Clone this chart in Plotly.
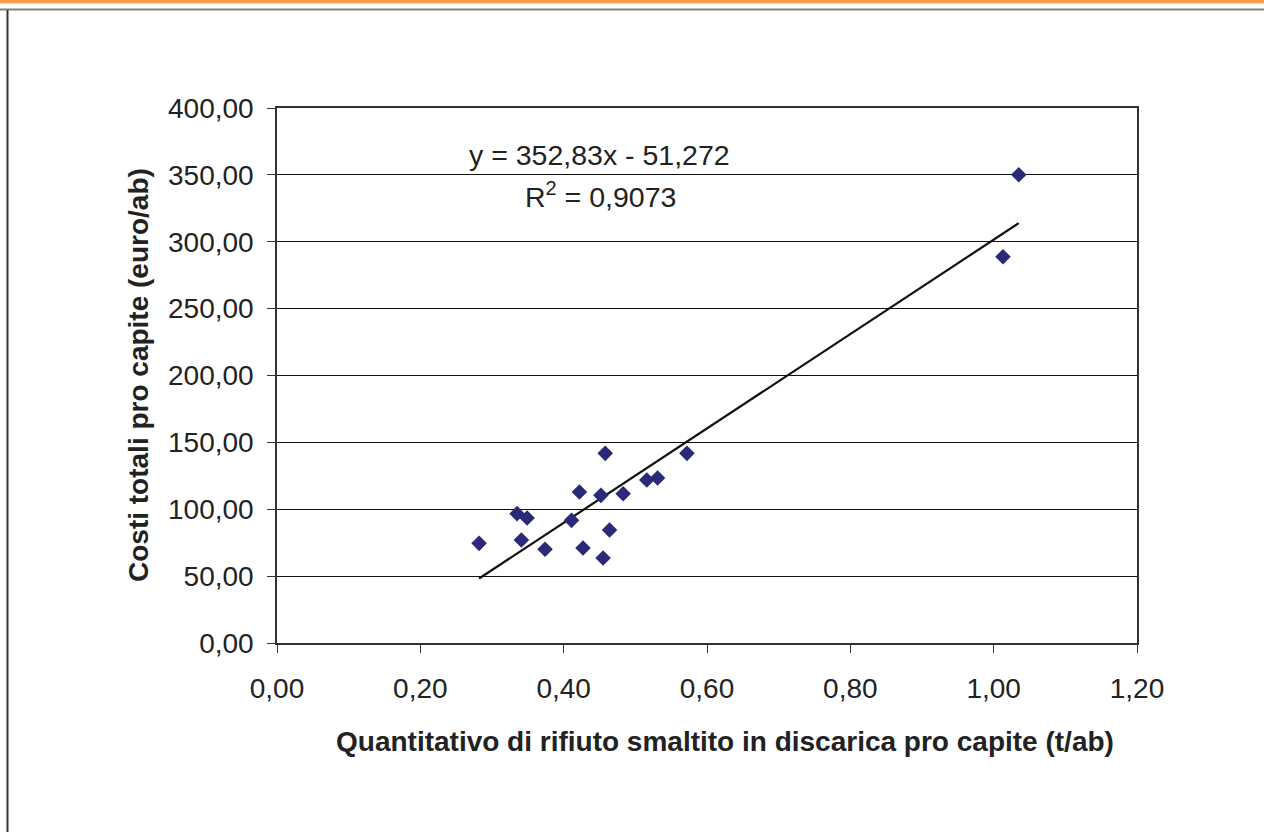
import plotly.graph_objects as go

# dati
quantitativo = [0.282, 0.335, 0.349, 0.341, 0.374, 0.411, 0.422, 0.427, 0.452, 0.455,
                0.464, 0.483, 0.458, 0.516, 0.531, 0.572, 1.013, 1.035]
costi = [74.5, 96.7, 93.5, 77.0, 70.1, 91.7, 112.9, 71.0, 110.4, 63.6,
         84.5, 111.6, 141.8, 121.9, 123.4, 141.8, 288.8, 350.1]

# retta di regressione
pendenza = 352.83
intercetta = -51.272
x_trend = [min(quantitativo), max(quantitativo)]
y_trend = [pendenza * v + intercetta for v in x_trend]

x_ticks = [0, 0.2, 0.4, 0.6, 0.8, 1.0, 1.2]
y_ticks = [0, 50, 100, 150, 200, 250, 300, 350, 400]

font = "Liberation Sans, Arial, sans-serif"

# area del grafico in pixel: x 277-1137, y 108-643
L, T, W, H = 277, 108, 860, 535


def px(x):
    return (x - L) / W


def py(y):
    return (T + H - y) / H


fig = go.Figure()
fig.add_trace(go.Scatter(x=x_trend, y=y_trend, mode="lines",
                         line=dict(color="#111111", width=2.2), hoverinfo="skip"))
fig.add_trace(go.Scatter(x=quantitativo, y=costi, mode="markers",
                         marker=dict(symbol="diamond", size=12, color="#2B2A78")))

fig.update_layout(
    width=1264, height=832,
    margin=dict(l=L, r=1264 - L - W, t=T, b=832 - T - H),
    paper_bgcolor="white", plot_bgcolor="white",
    showlegend=False,
    separators=",.",
    font=dict(family=font, size=28, color="#222222"),
)

fig.update_xaxes(
    range=[0, 1.2], tickvals=x_ticks, tickformat=".2f",
    showgrid=False, zeroline=False,
    showline=True, linecolor="#333333", linewidth=1.5, mirror=True,
    ticks="outside", ticklen=8, tickcolor="#333333", ticklabelstandoff=12,
)
fig.update_yaxes(
    range=[0, 400], tickvals=y_ticks, tickformat=".2f",
    showgrid=True, gridcolor="#111111", gridwidth=1, zeroline=False,
    showline=True, linecolor="#333333", linewidth=1.5, mirror=True,
    ticks="outside", ticklen=8, tickcolor="#333333", ticklabelstandoff=8,
)

# titoli degli assi
fig.add_annotation(x=px(725), y=py(741), xref="paper", yref="paper",
                   xanchor="center", yanchor="middle", showarrow=False,
                   text="<b>Quantitativo di rifiuto smaltito in discarica pro capite (t/ab)</b>",
                   font=dict(size=28, color="#222222"))
fig.add_annotation(x=px(138), y=py(375), xref="paper", yref="paper",
                   xanchor="center", yanchor="middle", showarrow=False, textangle=-90,
                   text="<b>Costi totali pro capite (euro/ab)</b>",
                   font=dict(size=28, color="#222222"))

# equazione della retta
fig.add_annotation(x=px(599), y=py(155), xref="paper", yref="paper",
                   xanchor="center", yanchor="middle", showarrow=False,
                   text="y = 352,83x - 51,272",
                   font=dict(size=28.5, color="#222222"))
fig.add_annotation(x=px(600), y=py(195), xref="paper", yref="paper",
                   xanchor="center", yanchor="middle", showarrow=False,
                   text="R<sup>2</sup> = 0,9073",
                   font=dict(size=28.5, color="#222222"))

# cornice e barra arancione in alto
fig.add_shape(type="line", xref="paper", yref="paper",
              x0=px(-20), x1=px(1290), y0=py(1.5), y1=py(1.5),
              line=dict(color="#F5A04A", width=4))
fig.add_shape(type="line", xref="paper", yref="paper",
              x0=px(-20), x1=px(1290), y0=py(9.5), y1=py(9.5),
              line=dict(color="#808080", width=2))
fig.add_shape(type="line", xref="paper", yref="paper",
              x0=px(7.5), x1=px(7.5), y0=py(10), y1=py(850),
              line=dict(color="#333333", width=2))

fig.write_html("out.html", config={"displayModeBar": False},
               post_script="document.body.style.margin='0';")
